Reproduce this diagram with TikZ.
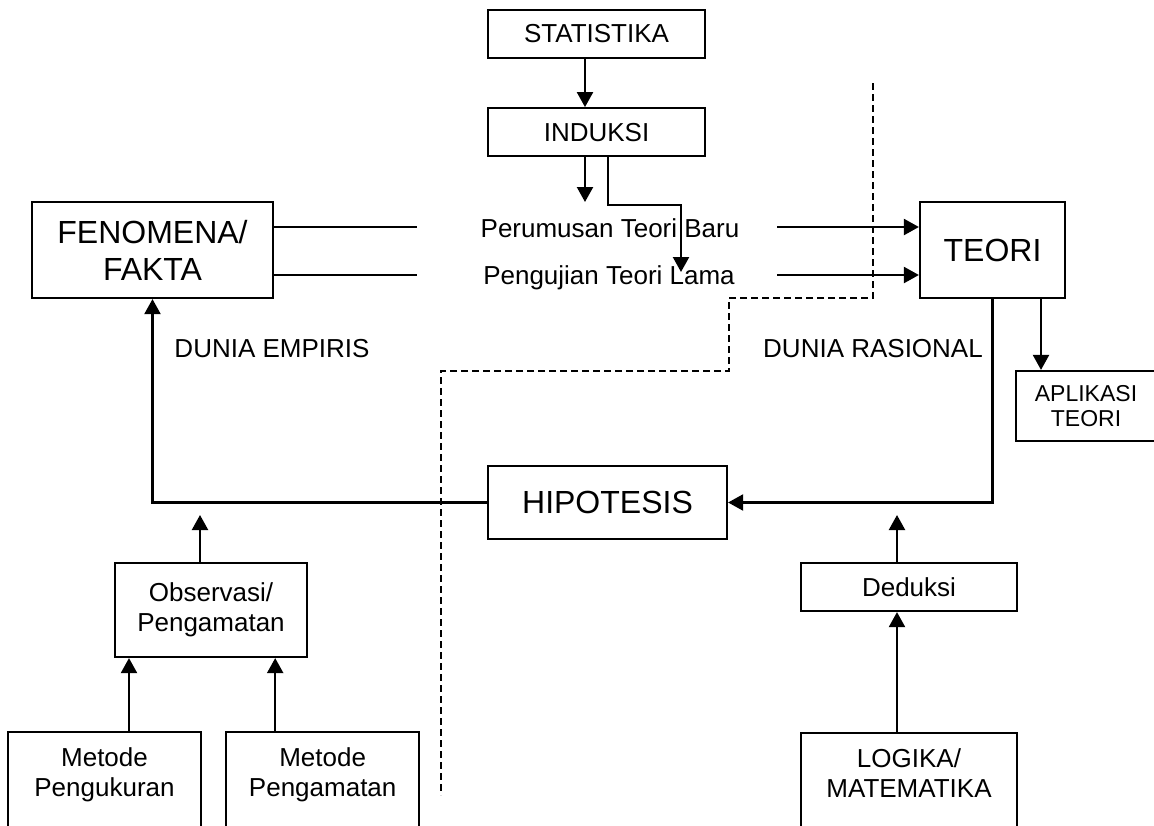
\documentclass[tikz,border=0pt]{standalone}
\usepackage{fontspec}
\setmainfont{Liberation Sans}
\usetikzlibrary{arrows.meta,positioning}

\begin{document}
\begin{tikzpicture}[x=1pt,y=-1pt,line width=2.2pt,
  every node/.style={font=\fontsize{26}{30}\selectfont,align=center},
  box/.style={draw,inner sep=0pt},
  big/.style={font=\fontsize{32}{37}\selectfont},
  arr/.style={-{Triangle[length=15pt,width=16pt]}},
  border/.style={dash pattern=on 7pt off 4pt}]
\useasboundingbox (0,0) rectangle (1154,825);
% upper part
\node[box,minimum width=217pt,minimum height=48pt] (stat) at (596.5,34) {STATISTIKA};
\node[box,minimum width=217pt,minimum height=48pt,below=48pt of stat] (induksi) {INDUKSI};
\node[box,big,minimum width=241pt,minimum height=96pt] (fenomena) at (152.5,250) {FENOMENA/\\FAKTA};
\node[box,big,minimum width=145pt,minimum height=96pt] (teori) at (992.5,250) {TEORI};
\node[anchor=base] (baru) at (610,237) {Perumusan Teori Baru};
\node[anchor=base] (lama) at (609,284) {Pengujian Teori Lama};
\node[anchor=base] (empiris) at (272,357) {DUNIA EMPIRIS};
\node[anchor=base] (rasional) at (873,357) {DUNIA RASIONAL};
\node[box,font=\fontsize{23}{25}\selectfont,minimum width=140pt,minimum height=70pt] (aplikasi) at (1086,406) {APLIKASI\\TEORI};
% lower part
\node[box,big,minimum width=239pt,minimum height=73pt] (hipotesis) at (607.5,502.5) {HIPOTESIS};
\node[box,minimum width=192pt,minimum height=94pt] (observasi) at (211,610) {Observasi/\\Pengamatan};
\node[box,minimum width=216pt,minimum height=48pt] (deduksi) at (909,587) {Deduksi};
\node[box,anchor=north,minimum width=193pt,inner ysep=16pt] (pengukuran) at (104.5,731) {Metode\\Pengukuran\rule[-60pt]{0pt}{0pt}};
\node[box,minimum width=193pt,inner ysep=16pt,right=23pt of pengukuran] (pengamatan) {Metode\\Pengamatan\rule[-60pt]{0pt}{0pt}};
\node[box,anchor=north,minimum width=216pt,inner ysep=16pt] (logika) at (909,732) {LOGIKA/\\MATEMATIKA\rule[-60pt]{0pt}{0pt}};

\coordinate (baruL) at (417,227);
\coordinate (lamaL) at (417,275);
\coordinate (baruR) at (777,227);
\coordinate (lamaR) at (777,275);
\coordinate (indA) at (585,202);
\coordinate (indB) at (681,272);
\coordinate (obsTip) at (200,515);
\coordinate (dedTip) at (897,515);

% connectors
\draw[arr] ([xshift=-11.5pt]stat.south) -- ([xshift=-11.5pt]induksi.north);
\draw[arr] ([xshift=-11.5pt]induksi.south) -- (indA);
\draw[arr] ([xshift=11.5pt]induksi.south) -- ++(0,48) -| (indB);
\draw (fenomena.east |- baruL) -- (baruL);
\draw (fenomena.east |- lamaL) -- (lamaL);
\draw[arr] (baruR) -- (teori.west |- baruR);
\draw[arr] (lamaR) -- (teori.west |- lamaR);
\draw[arr] ([xshift=48.5pt]teori.south) -- ([xshift=48.5pt]teori.south |- aplikasi.north);
\draw[arr] (teori.south) |- (hipotesis.east);
\draw[arr] (hipotesis.west) -| (fenomena.south);
\draw[arr] ([xshift=-11pt]observasi.north) -- (obsTip);
\draw[arr] ([xshift=24.5pt]pengukuran.north) -- ([xshift=24.5pt]pengukuran.north |- observasi.south);
\draw[arr] ([xshift=-47.5pt]pengamatan.north) -- ([xshift=-47.5pt]pengamatan.north |- observasi.south);
\draw[arr] ([xshift=-12pt]logika.north) -- ([xshift=-12pt]logika.north |- deduksi.south);
\draw[arr] ([xshift=-12pt]deduksi.north) -- (dedTip);
% batas dunia empiris / rasional
\draw[border] (873,83) |- (729,298) |- (441,371) -- (441,795);
\end{tikzpicture}
\end{document}
